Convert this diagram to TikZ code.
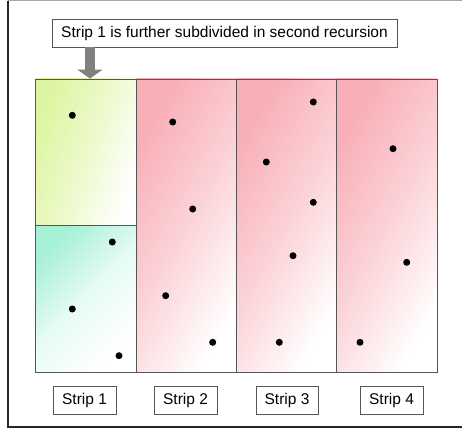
\documentclass[tikz,border=0pt]{standalone}
\usepackage{fontspec}
\setmainfont{Liberation Sans}
\usetikzlibrary{arrows.meta}
\definecolor{pinkc}{HTML}{F8AEB6}
\definecolor{yelc}{HTML}{DDF5A0}
\definecolor{mintc}{HTML}{A6F0D6}
\definecolor{edgec}{HTML}{555555}
\definecolor{arrowc}{HTML}{808080}
\tikzset{
  lab/.style={draw=edgec, line width=0.9pt, fill=white, inner sep=0pt, font=\fontsize{15.5}{18}\selectfont},
  dot/.style={circle, fill=black, inner sep=0pt, minimum size=7pt},
  cell/.style={draw=edgec, line width=0.9pt},
}
\begin{document}
\begin{tikzpicture}[x=1pt,y=-1pt]
\useasboundingbox (0,0) rectangle (462,430);
% outer frame (right side beyond picture)
\draw[gray!70, line width=0.9pt] (8,0.6) -- (470,0.6);
\draw[black!85, line width=1.1pt] (8,0.6) -- (8,427) -- (470,427);
% strip shadings
\shade[left color=pinkc, right color=white, middle color=pinkc!55, shading angle=60] (136,79) rectangle (236,372);
\shade[left color=pinkc, right color=white, middle color=pinkc!55, shading angle=60] (236,79) rectangle (336,372);
\shade[left color=pinkc, right color=white, middle color=pinkc!55, shading angle=60] (336,79) rectangle (437,372);
\shade[left color=yelc, right color=white, middle color=yelc!55, shading angle=70] (35,79) rectangle (136,225);
\shade[left color=mintc, right color=white, middle color=mintc!25, shading angle=45] (35,225) rectangle (136,372);
% cells
\node[cell, minimum width=101pt, minimum height=146pt, inner sep=0pt] (s1a) at (85.5,152) {};
\node[cell, minimum width=101pt, minimum height=147pt, inner sep=0pt] (s1b) at (85.5,298.5) {};
\node[cell, minimum width=100pt, minimum height=293pt, inner sep=0pt] (s2) at (186,225.5) {};
\node[cell, minimum width=100pt, minimum height=293pt, inner sep=0pt] (s3) at (286,225.5) {};
\node[cell, minimum width=101pt, minimum height=293pt, inner sep=0pt] (s4) at (386.5,225.5) {};
% title
\node[lab, minimum width=345pt, minimum height=28pt] (title) at (224.5,33) {Strip 1 is further subdivided in second recursion};
\coordinate (ax) at (90,0);
\draw[arrowc, line width=10pt, -{Triangle[width=25pt,length=9pt]}] (ax |- title.south) -- (ax |- s1a.north);
% labels
\node[lab, minimum width=63pt, minimum height=28pt] (l1) at (84.5,400) {Strip 1};
\node[lab, minimum width=63pt, minimum height=28pt] (l2) at (185.5,400) {Strip 2};
\node[lab, minimum width=62pt, minimum height=28pt] (l3) at (287,400) {Strip 3};
\node[lab, minimum width=63pt, minimum height=28pt] (l4) at (391.5,400) {Strip 4};
% dots
\node[dot] (d1) at (72.3,115.3) {};
\node[dot] (d2) at (112.3,242) {};
\node[dot] (d3) at (72.3,309) {};
\node[dot] (d4) at (119,355.7) {};
\node[dot] (d5) at (172.7,122) {};
\node[dot] (d6) at (192.7,209) {};
\node[dot] (d7) at (165.7,295.7) {};
\node[dot] (d8) at (212.7,342.3) {};
\node[dot] (d9) at (313.3,102) {};
\node[dot] (d10) at (266.3,162) {};
\node[dot] (d11) at (313.3,202.3) {};
\node[dot] (d12) at (293,255.7) {};
\node[dot] (d13) at (279.3,342.3) {};
\node[dot] (d14) at (393,148.7) {};
\node[dot] (d15) at (406.7,262.3) {};
\node[dot] (d16) at (360,342.3) {};
\end{tikzpicture}
\end{document}
